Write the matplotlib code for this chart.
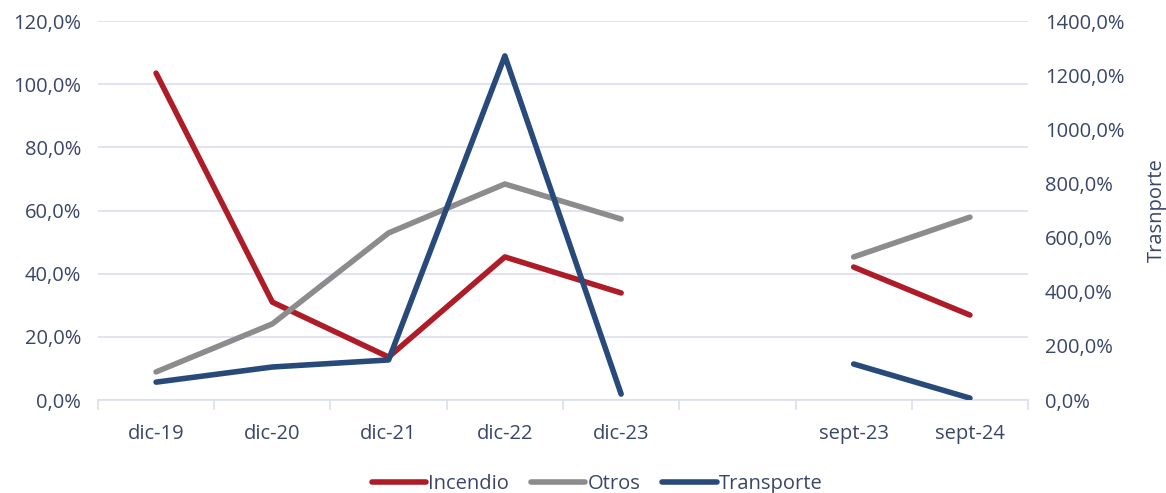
import numpy as np
import matplotlib.pyplot as plt
from matplotlib.ticker import FuncFormatter

plt.rcParams['font.family'] = ['Open Sans', 'DejaVu Sans']

# categories (the empty one leaves the gap between dic-23 and sept-23)
categorias = ['dic-19', 'dic-20', 'dic-21', 'dic-22', 'dic-23', '', 'sept-23', 'sept-24']

incendio = [103.5, 31.0, 13.6, 45.3, 33.9, np.nan, 42.1, 26.9]
otros = [8.9, 24.1, 52.9, 68.4, 57.3, np.nan, 45.3, 57.9]
transporte = [66, 122, 148, 1271, 22, np.nan, 133, 7]   # right axis

c_inc = '#AE1C28'
c_otr = '#8C8C8C'
c_tra = '#284A7A'
c_txt = '#3A4668'
c_grid = '#DCDFEE'
fs = 14.5

fig = plt.figure(figsize=(11.66, 4.93), dpi=100)
ax = fig.add_axes([0.084, 0.1886, 0.7977, 0.7688])
ax2 = ax.twinx()

x = np.arange(len(categorias))
l1, = ax.plot(x, incendio, color=c_inc, lw=4, solid_capstyle='round', label='Incendio')
l2, = ax.plot(x, otros, color=c_otr, lw=4, solid_capstyle='round', label='Otros')
l3, = ax2.plot(x, transporte, color=c_tra, lw=4, solid_capstyle='round', label='Transporte')
ax2.set_zorder(ax.get_zorder() + 1)

ax.set_xlim(-0.5, len(categorias) - 0.5)
ax.set_ylim(0, 120)
ax2.set_ylim(0, 1400)
ax.set_yticks(np.arange(0, 121, 20))
ax2.set_yticks(np.arange(0, 1401, 200))
fmt = FuncFormatter(lambda v, p: ('%.1f%%' % v).replace('.', ','))
ax.yaxis.set_major_formatter(fmt)
ax2.yaxis.set_major_formatter(fmt)

ax.set_xticks(x)
ax.set_xticklabels(categorias)
ax.set_xticks(np.arange(-0.5, len(categorias)), minor=True)
ax.tick_params(axis='x', which='major', length=0, pad=17, labelsize=fs, colors=c_txt)
ax.tick_params(axis='x', which='minor', length=7, width=1.2, color=c_grid, direction='out')
ax.tick_params(axis='y', length=0, pad=12, labelsize=fs, colors=c_txt)
ax2.tick_params(axis='y', length=0, pad=12, labelsize=fs, colors=c_txt)

ax.grid(axis='y', color=c_grid, lw=1.2)
ax.set_axisbelow(True)
for a in (ax, ax2):
    for s in a.spines.values():
        s.set_visible(False)
ax.spines['bottom'].set_visible(True)
ax.spines['bottom'].set_color(c_grid)
ax.spines['bottom'].set_linewidth(1.2)

ax2.set_ylabel('Trasnporte', fontsize=fs, color=c_txt, labelpad=16)

fig.legend(handles=[l1, l2, l3], loc='lower center', bbox_to_anchor=(0.512, -0.038),
           ncol=3, frameon=False, fontsize=fs, handlelength=2.7, handletextpad=0.1,
           columnspacing=1.1, labelcolor=c_txt)

fig.savefig('out.png', dpi=100)
